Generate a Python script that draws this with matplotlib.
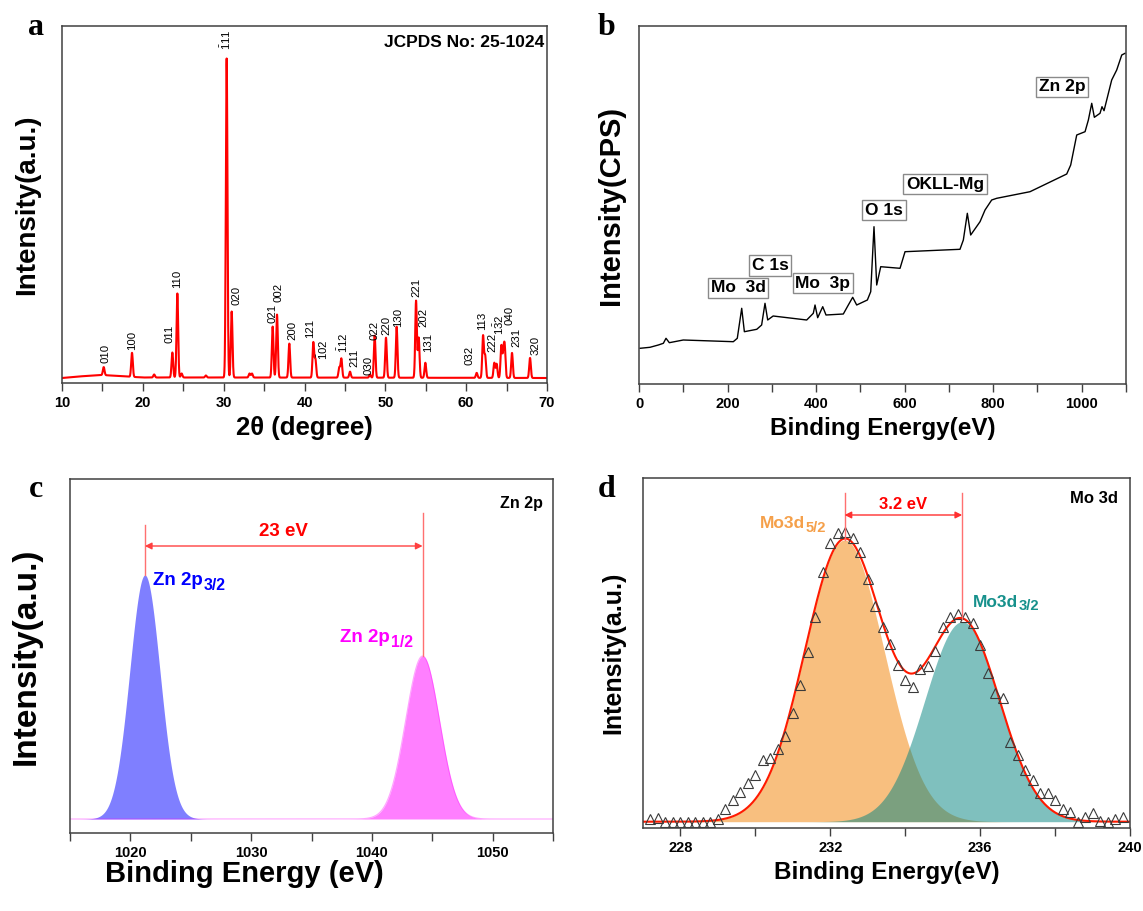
import matplotlib
matplotlib.use("Agg")
import matplotlib.pyplot as plt
from matplotlib.ticker import MultipleLocator
import numpy as np

plt.rcParams["font.family"] = "Liberation Sans"
plt.rcParams["mathtext.fontset"] = "custom"
plt.rcParams["mathtext.rm"] = "Liberation Sans"
plt.rcParams["mathtext.bf"] = "Liberation Sans:bold"
plt.rcParams["mathtext.it"] = "Liberation Sans:italic"

# ── Daten a: XRD ─────────────────────────────────────────────
xrd_pos = [15.16, 18.66, 21.4, 23.65, 24.27, 24.8, 27.8, 30.37, 30.99, 33.2, 33.5,
           36.06, 36.6, 38.12, 41.09, 41.35, 44.3, 44.56, 45.63, 48.1, 48.68, 50.08,
           51.4, 53.8, 54.13, 54.95, 61.3, 62.09, 62.35, 63.48, 63.77, 64.35, 64.6,
           64.77, 65.67, 67.9]
xrd_int = [8, 24, 3, 25, 84, 4, 2, 319, 66, 4, 4,
           51, 63, 34, 35, 18, 10, 19, 6, 3, 42, 40,
           51, 77, 40, 15, 5, 42, 22, 15, 14, 32, 22,
           29, 25, 20]
xrd_bg_x = [10, 12, 15, 17, 20, 30, 50, 70]
xrd_bg_y = [0, 1.5, 3, 2, 0.5, 0.5, 0.3, 0]
hkl_text = ["010", "100", "011", "110", r"$\mathrm{\bar{1}11}$", "020", "021", "002",
            "200", "121", r"$\mathrm{\bar{1}02}$", r"$\mathrm{\bar{1}12}$", "211", "030",
            "022", "220", "130", "221", "202", "131", "032", "113", "222",
            r"$\mathrm{1\bar{3}2}$", "040", "231", "320"]
hkl_x = [15.32, 18.62, 23.27, 24.19, 30.25, 31.61, 35.98, 36.76, 38.49, 40.68, 42.33,
         44.8, 46.12, 47.89, 48.6, 50.08, 51.6, 53.88, 54.7, 55.28, 60.47, 61.96,
         63.28, 64.1, 65.34, 66.25, 68.52]
hkl_y = [14.7, 28, 35, 90, 328, 73, 55, 76, 38, 40, 18, 25, 11, 3, 38, 43, 51, 81,
         51, 26, 13, 48, 26, 43, 53, 31, 23]

# ── Daten b: XPS Survey ──────────────────────────────────────
survey_be = [2.3, 24.8, 43.7, 55, 61, 68.5, 100, 213, 222, 232, 238, 266, 277, 284.6,
             290.7, 303, 378.8, 393.7, 397.6, 403.6, 415, 422.4, 461.5, 472.8, 482.7,
             491.7, 515.8, 523.4, 530.8, 536.9, 546, 589.6, 600.9, 725, 732.6, 741.6,
             749.2, 770.3, 781.6, 796.6, 808, 883.2, 966.1, 975.1, 988.7, 1007.5, 1015,
             1022.6, 1028.5, 1041.3, 1045.8, 1050.4, 1067.7, 1079, 1090.4, 1097.8]
survey_cps = [35.7, 36.7, 39, 40.7, 45.7, 41.3, 44, 42.3, 45.7, 75.7, 52.3, 54.7, 59,
              80.7, 64, 68, 64, 70.7, 79, 66.3, 77.3, 69, 70, 79, 86.7, 79, 84, 92.3,
              157.3, 99, 117.3, 115.7, 132.3, 134.7, 144, 170.7, 149, 162.3, 174, 184,
              185.7, 192.3, 210, 219, 249, 252.3, 264, 280.7, 266.7, 270.7, 277.3,
              273.3, 304, 314, 329, 330.7]
survey_tags = ["Mo  3d", "C 1s", "Mo  3p", "O 1s", "OKLL-Mg", "Zn 2p"]
survey_tag_be = [223.6, 295.9, 415, 553.4, 691.2, 955.5]
survey_tag_cps = [96, 118.5, 100.7, 173.7, 199.7, 297]

# ── Daten c: Zn 2p ───────────────────────────────────────────
zn_center = [1021.2, 1044.2]
zn_height = [244, 163]
zn_sigma = [1.25, 1.4]

# ── Daten d: Mo 3d ───────────────────────────────────────────
mo_be = [round(227.2 + 0.2 * i, 1) for i in range(64)]
mo_int = [2.4, 3.4, 0, 0, 0, 0, 0, 0, 0, 2.4, 12.4, 21.7, 30, 38.4, 46.7, 61.7, 63.4,
          72.4, 85.7, 108.4, 136.7, 170, 205, 250, 278.4, 288.4, 289.4, 283.4, 270,
          242.4, 215.7, 195, 177.5, 156.5, 141.5, 134.4, 152.4, 156, 171, 194.4, 205,
          207.7, 205, 198.4, 176.7, 148.4, 128.4, 123.4, 80, 66.7, 51.7, 41.7, 29, 29,
          21.7, 12.4, 10, 0, 5, 8.4, 0.7, 0, 2.4, 5]
mo_center = [232.38, 235.52]
mo_height = [281.7, 200]
mo_sigma = [1.06, 1.0]


def gauss(x, c, h, s):
    return h * np.exp(-(x - c) ** 2 / (2 * s ** 2))


W, H = 1143, 911
fig = plt.figure(figsize=(W / 100, H / 100), dpi=100)


def make_ax(l, t, r, b):
    ax = fig.add_axes([l / W, 1 - b / H, (r - l) / W, (b - t) / H])
    for sp in ax.spines.values():
        sp.set_color("#404040")
        sp.set_linewidth(1.1)
    ax.set_yticks([])
    ax.tick_params(axis="x", which="both", direction="out", length=6, width=1,
                   color="#404040", top=False)
    ax.tick_params(axis="x", labelsize=10.5)
    return ax


def bold_ticks(ax):
    for lb in ax.get_xticklabels():
        lb.set_fontweight("bold")


def sub_label(ax, x, y, main, sub, color, size):
    # Haupttext plus grosser Index direkt dahinter
    t = ax.text(x, y, main, color=color, fontsize=size, fontweight="bold",
                ha="left", va="baseline")
    ax.annotate(sub, xy=(1, 0), xycoords=t, xytext=(0.5, -0.5),
                textcoords="offset points", color=color, fontsize=size * 0.85,
                fontweight="bold", ha="left", va="baseline")


# ── Plot a ───────────────────────────────────────────────────
ax1 = make_ax(62, 26, 547, 383)
x = np.arange(10, 70.0001, 0.01)
y = np.interp(x, xrd_bg_x, xrd_bg_y)
for p, h in zip(xrd_pos, xrd_int):
    y = y + gauss(x, p, h, 0.1)
ax1.plot(x, y, color="red", lw=1.5)
ax1.set_xlim(10, 70)
ax1.set_ylim(-5, 352)
ax1.xaxis.set_major_locator(MultipleLocator(10))
ax1.xaxis.set_minor_locator(MultipleLocator(5))
for t, px, py in zip(hkl_text, hkl_x, hkl_y):
    ax1.text(px, py, t, rotation=90, ha="center", va="bottom", fontsize=8.2)
ax1.text(0.995, 0.975, "JCPDS No: 25-1024", transform=ax1.transAxes, ha="right",
         va="top", fontsize=12.5, fontweight="bold")
ax1.set_xlabel("2θ (degree)", fontsize=18.5, fontweight="bold")
ax1.set_ylabel("Intensity(a.u.)", fontsize=20, fontweight="bold")
ax1.yaxis.set_label_coords(-0.045, 0.5)
bold_ticks(ax1)

# ── Plot b ───────────────────────────────────────────────────
ax2 = make_ax(639, 26, 1126, 384)
ax2.plot(survey_be, survey_cps, color="black", lw=1)
ax2.set_xlim(0, 1100)
ax2.set_ylim(0, 358)
ax2.xaxis.set_major_locator(MultipleLocator(200))
ax2.xaxis.set_minor_locator(MultipleLocator(100))
for t, bx, by in zip(survey_tags, survey_tag_be, survey_tag_cps):
    ax2.text(bx, by, t, ha="center", va="center", fontsize=12.5, fontweight="bold",
             bbox=dict(boxstyle="square,pad=0.15", fc="white", ec="#8a8a8a", lw=1))
ax2.set_xlabel("Binding Energy(eV)", fontsize=17.5, fontweight="bold")
ax2.set_ylabel("Intensity(CPS)", fontsize=21, fontweight="bold")
ax2.yaxis.set_label_coords(-0.029, 0.5)
bold_ticks(ax2)

# ── Plot c ───────────────────────────────────────────────────
ax3 = make_ax(70, 479, 553, 833)
xc = np.arange(1015, 1055.001, 0.02)
p1 = gauss(xc, zn_center[0], zn_height[0], zn_sigma[0])
p2 = gauss(xc, zn_center[1], zn_height[1], zn_sigma[1])
ax3.fill_between(xc, 0, p1, color="blue", alpha=0.5, lw=0)
ax3.fill_between(xc, 0, p2, color="magenta", alpha=0.5, lw=0)
ax3.plot(xc, p2, color="magenta", alpha=0.35, lw=0.8)
ax3.set_xlim(1015, 1055)
ax3.set_ylim(-14, 340)
ax3.xaxis.set_major_locator(MultipleLocator(10))
ax3.xaxis.set_minor_locator(MultipleLocator(5))
ax3.plot([zn_center[0]] * 2, [zn_height[0], 294], color="#ff7070", lw=1)
ax3.plot([zn_center[1]] * 2, [zn_height[1], 306], color="#ff7070", lw=1)
ax3.annotate("", xy=(zn_center[0], 273), xytext=(zn_center[1], 273),
             arrowprops=dict(arrowstyle="<|-|>", color="#ff4040", lw=1,
                             mutation_scale=10, shrinkA=0, shrinkB=0))
ax3.text(1032.7, 287, "23 eV", color="red", ha="center", va="center",
         fontsize=13.5, fontweight="bold")
sub_label(ax3, 1021.9, 234, "Zn 2p", "3/2", "blue", 13.5)
sub_label(ax3, 1037.4, 177, "Zn 2p", "1/2", "magenta", 13.5)
ax3.text(0.98, 0.93, "Zn 2p", transform=ax3.transAxes, ha="right", va="center",
         fontsize=11.5, fontweight="bold")
ax3.set_xlabel("Binding Energy (eV)", fontsize=21, fontweight="bold")
ax3.xaxis.set_label_coords(0.36, -0.075)
ax3.set_ylabel("Intensity(a.u.)", fontsize=24, fontweight="bold")
ax3.yaxis.set_label_coords(-0.058, 0.5)
bold_ticks(ax3)

# ── Plot d ───────────────────────────────────────────────────
ax4 = make_ax(643, 478, 1130, 828)
xd = np.arange(227, 240.001, 0.01)
o1 = gauss(xd, mo_center[0], mo_height[0], mo_sigma[0])
o2 = gauss(xd, mo_center[1], mo_height[1], mo_sigma[1])
ax4.fill_between(xd, 0, o1, color="#f38101", alpha=0.5, lw=0)
ax4.fill_between(xd, 0, o2, color="#00837f", alpha=0.5, lw=0)
ax4.plot(xd, o1 + o2, color="#ff1a00", lw=1.5)
ax4.plot(mo_be, mo_int, ls="none", marker="^", ms=7.5, mfc="none",
         mec="#3a3a3a", mew=0.8)
ax4.set_xlim(227, 240)
ax4.set_ylim(-6.3, 343.7)
ax4.xaxis.set_major_locator(MultipleLocator(4))
ax4.xaxis.set_minor_locator(MultipleLocator(2))
ax4.plot([mo_center[0]] * 2, [mo_height[0], 328.7], color="#ff7070", lw=1)
ax4.plot([mo_center[1]] * 2, [203, 328.7], color="#ff7070", lw=1)
ax4.annotate("", xy=(mo_center[0], 306.7), xytext=(mo_center[1], 306.7),
             arrowprops=dict(arrowstyle="<|-|>", color="#ff3030", lw=1,
                             mutation_scale=10, shrinkA=0, shrinkB=0))
ax4.text(233.95, 316.7, "3.2 eV", color="red", ha="center", va="center",
         fontsize=12, fontweight="bold")
sub_label(ax4, 230.13, 293.7, "Mo3d", "5/2", "#f5a04a", 12.5)
sub_label(ax4, 235.8, 215, "Mo3d", "3/2", "#17918c", 12.5)
ax4.text(0.975, 0.94, "Mo 3d", transform=ax4.transAxes, ha="right", va="center",
         fontsize=12, fontweight="bold")
ax4.set_xlabel("Binding Energy(eV)", fontsize=17.5, fontweight="bold")
ax4.set_ylabel("Intensity(a.u.)", fontsize=18, fontweight="bold")
ax4.yaxis.set_label_coords(-0.037, 0.5)
bold_ticks(ax4)

# ── Panel-Buchstaben ─────────────────────────────────────────
for lab, px, py in [("a", 36, 35), ("b", 607, 35), ("c", 36, 497), ("d", 607, 497)]:
    fig.text(px / W, 1 - py / H, lab, ha="center", va="baseline", fontsize=23,
             fontweight="bold", family="Liberation Serif")

fig.savefig("out.png", dpi=100)
